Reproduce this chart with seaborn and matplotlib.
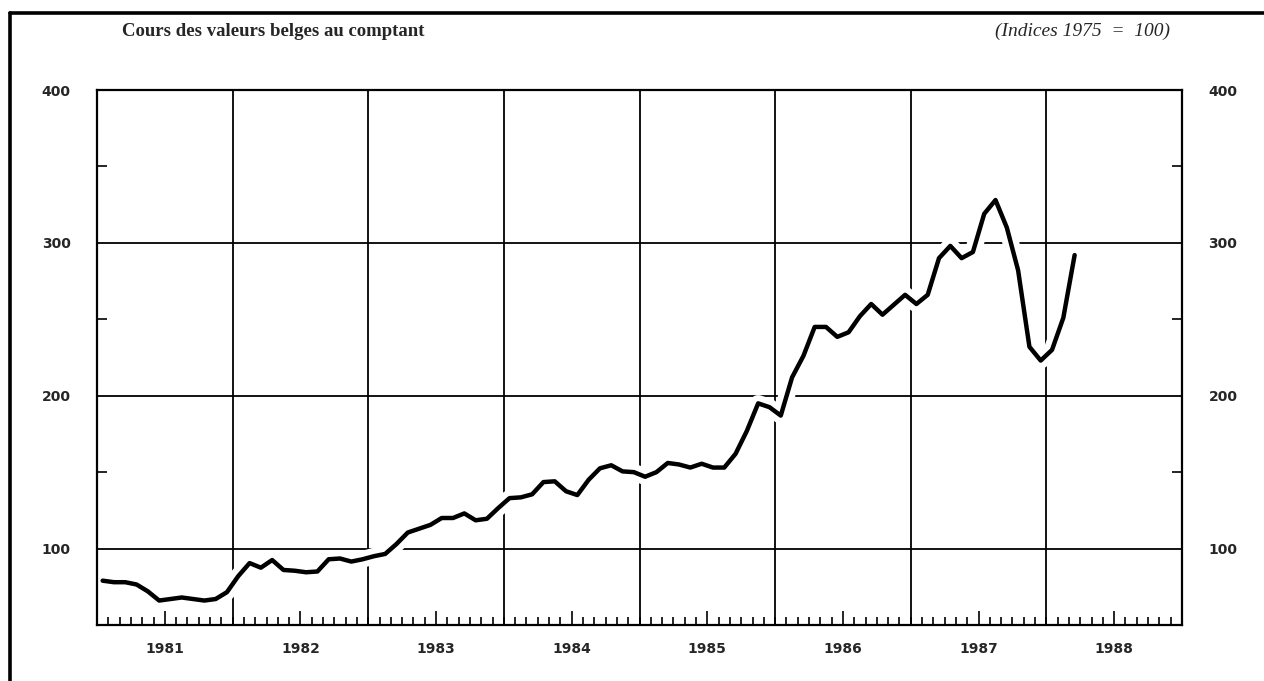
import matplotlib
matplotlib.use("Agg")
import pandas as pd
import matplotlib.pyplot as plt
import matplotlib.patheffects as pe
from matplotlib.lines import Line2D
from matplotlib.ticker import MultipleLocator
import seaborn as sns

# Cours des valeurs belges au comptant, monthly index (1975 = 100)
idx_1981 = [79, 78, 78, 76.5, 72, 66, 67, 68, 67, 66, 67, 71.5]
idx_1982 = [82, 90.5, 87.5, 92.5, 86, 85.5, 84.5, 85, 93, 93.5, 91.5, 93]
idx_1983 = [95, 96.5, 103, 110.5, 113, 115.5, 120, 120, 123, 118.5, 119.5, 126.5]
idx_1984 = [133, 133.5, 135.5, 143.5, 144, 137.5, 135, 145, 152.5, 154.5, 150.5, 150]
idx_1985 = [147, 150, 156, 155, 153, 155.5, 153, 153, 162, 177, 195, 192.5]
idx_1986 = [187, 212, 226, 245, 245, 238.5, 241.5, 252, 260, 253, 259.5, 266]
idx_1987 = [260, 266, 290, 298, 290, 294, 319, 328, 310, 282, 232, 223]
idx_1988 = [230, 251, 292]

years = [1981, 1982, 1983, 1984, 1985, 1986, 1987, 1988]
y_major = [100, 200, 300, 400]
y_minor = [150, 250, 350]

values = idx_1981 + idx_1982 + idx_1983 + idx_1984 + idx_1985 + idx_1986 + idx_1987 + idx_1988
months = pd.period_range("1981-01", periods=len(values), freq="M")
df = pd.DataFrame({"annee": months.year, "mois": months.month, "indice": values})
# each month sits at its middle on a decimal-year axis
df["t"] = df["annee"] + (df["mois"] - 0.5) / 12

sns.set_style("white")
plt.rcParams["font.family"] = ["DejaVu Sans"]

W, H = 1264, 681
fig = plt.figure(figsize=(W / 100, H / 100), dpi=100)
ax = fig.add_axes([97 / W, 1 - 625 / H, (1182 - 97) / W, (625 - 90) / H])

sns.lineplot(
    data=df, x="t", y="indice", ax=ax, color="black", linewidth=3.2,
    path_effects=[pe.Stroke(linewidth=12, foreground="white"), pe.Normal()],
)

ax.set_xlim(years[0], years[-1] + 1)
ax.set_ylim(50, 400)
ax.set_axisbelow(True)

# year separators
for yr in years[1:]:
    ax.axvline(yr, color="black", linewidth=1.3, zorder=0.5)
ax.grid(axis="y", which="major", color="black", linewidth=1.3)
ax.grid(axis="x", visible=False)

# x ticks: month marks, longer mark + label at mid-year
ax.set_xticks([y + 0.5 for y in years])
ax.set_xticklabels([str(y) for y in years], fontweight="bold")
ax.xaxis.set_minor_locator(MultipleLocator(1 / 12))
ax.tick_params(axis="x", which="major", bottom=True, top=False, direction="in",
               length=10, width=1.2, pad=12, labelsize=10, color="black")
ax.tick_params(axis="x", which="minor", bottom=True, top=False, direction="in",
               length=6, width=1.2, color="black")

# y ticks on both sides
ax.set_yticks(y_major)
ax.set_yticklabels([str(v) for v in y_major], fontweight="bold")
ax.set_yticks(y_minor, minor=True)
ax.tick_params(axis="y", which="major", left=True, right=True, labelleft=True,
               labelright=True, length=0, labelsize=10, pad=19)
ax.tick_params(axis="y", which="minor", left=True, right=True, direction="in",
               length=7, width=1.2, color="black")
for t in ax.yaxis.get_major_ticks():
    t.label1.set_fontweight("bold")
    t.label2.set_fontweight("bold")

ax.set_xlabel("")
ax.set_ylabel("")
for sp in ax.spines.values():
    sp.set_color("black")
    sp.set_linewidth(1.6)

# page frame of the scanned report
fig.add_artist(Line2D([10 / W, 1], [1 - 13 / H, 1 - 13 / H], transform=fig.transFigure,
                      color="black", linewidth=2.6))
fig.add_artist(Line2D([10 / W, 10 / W], [0, 1 - 13 / H], transform=fig.transFigure,
                      color="black", linewidth=2.6))

fig.text(122 / W, 1 - 31 / H, "Cours des valeurs belges au comptant",
         family=["Liberation Serif", "DejaVu Serif"], fontsize=13.5,
         fontweight="bold", va="center", ha="left")
fig.text(1170 / W, 1 - 31 / H, "(Indices 1975  =  100)",
         family=["Liberation Serif", "DejaVu Serif"], fontsize=14,
         style="italic", va="center", ha="right")

fig.savefig("out.png", dpi=100)
